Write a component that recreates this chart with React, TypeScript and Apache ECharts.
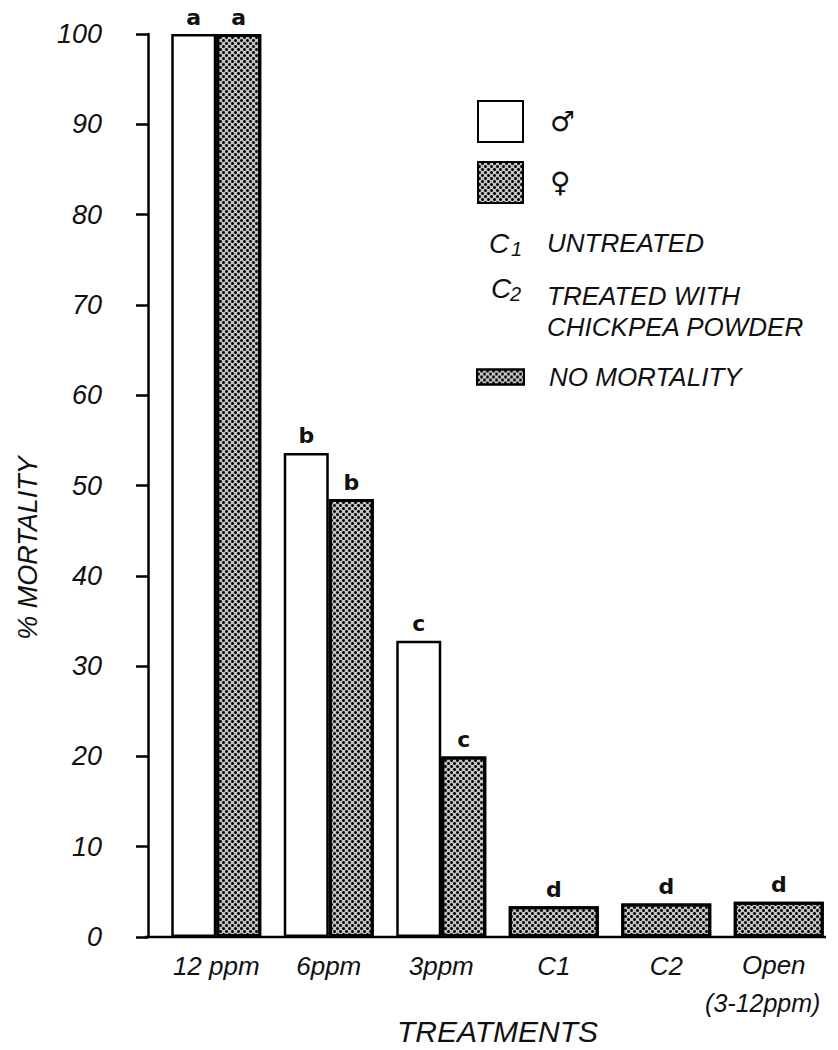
import React, { useEffect, useRef } from "react";
import * as echarts from "echarts";

const categories = ["12 ppm", "6ppm", "3ppm", "C1", "C2", "Open\n(3-12ppm)"];
const maleValues: (number | string)[] = [100, 53.6, 32.8, "-", "-", "-"];
const femaleValues: (number | string)[] = [100, 48.5, 20.0, "-", "-", "-"];
const noMortalityValues: (number | string)[] = ["-", "-", "-", 3.4, 3.7, 3.9];
const maleLetters = ["a", "b", "c", "", "", ""];
const femaleLetters = ["a", "b", "c", "", "", ""];
const noMortalityLetters = ["", "", "", "d", "d", "d"];
const yTicks = { min: 0, max: 100, interval: 10 };

const INK = "#111";
const ITALIC = { fontStyle: "italic" as const, fontFamily: "Liberation Sans", color: INK };

const decal = {
  symbol: "circle",
  symbolSize: 1,
  color: "#000",
  dashArrayX: [[3, 3], [0, 3, 3, 0]],
  dashArrayY: [3, 0],
  rotation: 0,
};
const HATCH_BG = "#c4c4c4";

export default function App() {
  const ref = useRef<HTMLDivElement>(null);
  useEffect(() => {
    if (!ref.current) return;
    const chart = echarts.init(ref.current, undefined, { renderer: "svg" });
    const letterLabel = (letters: string[]) => ({
      show: true,
      position: "top" as const,
      distance: 6,
      formatter: (p: any) => letters[p.dataIndex],
      fontSize: 22,
      fontWeight: "bold" as const,
      fontFamily: "DejaVu Sans",
      color: INK,
    });
    chart.setOption({
      animation: false,
      backgroundColor: "#fff",
      grid: { left: 160, right: 3, top: 34, bottom: 113, containLabel: false, outerBoundsMode: "none" },
      legend: [
        {
          data: ["♂", "♀"],
          orient: "vertical",
          left: 477,
          top: 100,
          padding: 0,
          itemWidth: 45,
          itemHeight: 41,
          itemGap: 18,
          icon: "rect",
          selectedMode: false,
          textStyle: { fontFamily: "DejaVu Sans", fontSize: 28, color: INK, padding: [0, 0, 0, 22] },
        },
        {
          data: ["NO MORTALITY"],
          left: 476,
          top: 364,
          padding: 0,
          itemWidth: 47,
          itemHeight: 15,
          icon: "rect",
          selectedMode: false,
          textStyle: { ...ITALIC, fontSize: 26, padding: [0, 0, 0, 20] },
        },
      ],
      xAxis: [
        {
          type: "category",
          data: categories,
          axisLine: { show: false },
          axisTick: { show: false },
          axisLabel: {
            ...ITALIC,
            fontSize: 26,
            margin: 10,
            lineHeight: 38,
            interval: 0,
            hideOverlap: false,
            formatter: (v: string) => {
              const parts = v.split("\n");
              if (parts.length === 1) return v;
              return `{o|${parts[0]}}\n{p|${parts[1]}}`;
            },
            rich: {
              o: { ...ITALIC, fontSize: 26, lineHeight: 36, padding: [0, 10, 0, 0] },
              p: { ...ITALIC, fontSize: 25, lineHeight: 40, padding: [0, 32, 0, 0] },
            },
          },
          name: "TREATMENTS",
          nameLocation: "middle",
          nameGap: 76,
          nameMoveOverlap: false,
          nameTextStyle: { ...ITALIC, fontSize: 30, lineHeight: 36, verticalAlign: "top" },
        },
        {
          type: "category",
          data: categories,
          show: false,
        },
      ],
      yAxis: {
        type: "value",
        min: yTicks.min,
        max: yTicks.max,
        interval: yTicks.interval,
        offset: 12,
        axisLine: { show: true, lineStyle: { color: "#000", width: 2.5 } },
        axisTick: { show: true, length: 12, lineStyle: { color: "#000", width: 2.5 } },
        axisLabel: { ...ITALIC, fontSize: 27, margin: 46 },
        splitLine: { show: false },
      },
      graphic: [
        {
          type: "line",
          z: 100,
          shape: { x1: 145, y1: 937, x2: 826, y2: 937 },
          style: { stroke: "#000", lineWidth: 2.5 },
        },
        {
          type: "text",
          x: 28,
          y: 548,
          rotation: Math.PI / 2,
          style: { text: "% MORTALITY", fill: INK, fontSize: 27, fontStyle: "italic", fontFamily: "Liberation Sans", align: "center", verticalAlign: "middle" },
        },
        { type: "text", x: 489, y: 243, style: { text: "C", fill: INK, fontSize: 28, fontStyle: "italic", fontFamily: "Liberation Sans", align: "left", verticalAlign: "middle" } },
        { type: "text", x: 511, y: 249, style: { text: "1", fill: INK, fontSize: 20, fontStyle: "italic", fontFamily: "Liberation Sans", align: "left", verticalAlign: "middle" } },
        { type: "text", x: 547, y: 243, style: { text: "UNTREATED", fill: INK, fontSize: 26, fontStyle: "italic", fontFamily: "Liberation Sans", align: "left", verticalAlign: "middle" } },
        { type: "text", x: 491, y: 288, style: { text: "C", fill: INK, fontSize: 28, fontStyle: "italic", fontFamily: "Liberation Sans", align: "left", verticalAlign: "middle" } },
        { type: "text", x: 510, y: 294, style: { text: "2", fill: INK, fontSize: 20, fontStyle: "italic", fontFamily: "Liberation Sans", align: "left", verticalAlign: "middle" } },
        { type: "text", x: 547, y: 296, style: { text: "TREATED WITH", fill: INK, fontSize: 26, fontStyle: "italic", fontFamily: "Liberation Sans", align: "left", verticalAlign: "middle" } },
        { type: "text", x: 547, y: 327, style: { text: "CHICKPEA POWDER", fill: INK, fontSize: 26, fontStyle: "italic", fontFamily: "Liberation Sans", align: "left", verticalAlign: "middle" } },
      ],
      series: [
        {
          name: "♂",
          type: "bar",
          xAxisIndex: 0,
          data: maleValues,
          barWidth: 45,
          barGap: "0%",
          itemStyle: { color: "#fff", borderColor: "#000", borderWidth: 2.5 },
          label: letterLabel(maleLetters),
        },
        {
          name: "♀",
          type: "bar",
          xAxisIndex: 0,
          data: femaleValues,
          barWidth: 45,
          barGap: "0%",
          itemStyle: { color: HATCH_BG, borderColor: "#000", borderWidth: 3, decal },
          label: letterLabel(femaleLetters),
        },
        {
          name: "NO MORTALITY",
          type: "bar",
          xAxisIndex: 1,
          data: noMortalityValues,
          barWidth: 90,
          itemStyle: { color: HATCH_BG, borderColor: "#000", borderWidth: 3, decal },
          label: letterLabel(noMortalityLetters),
        },
      ],
    });
    return () => chart.dispose();
  }, []);
  return (
    <div
      ref={ref}
      style={{ position: "fixed", left: 0, top: 0, width: 838, height: 1050, background: "#fff" }}
    />
  );
}
